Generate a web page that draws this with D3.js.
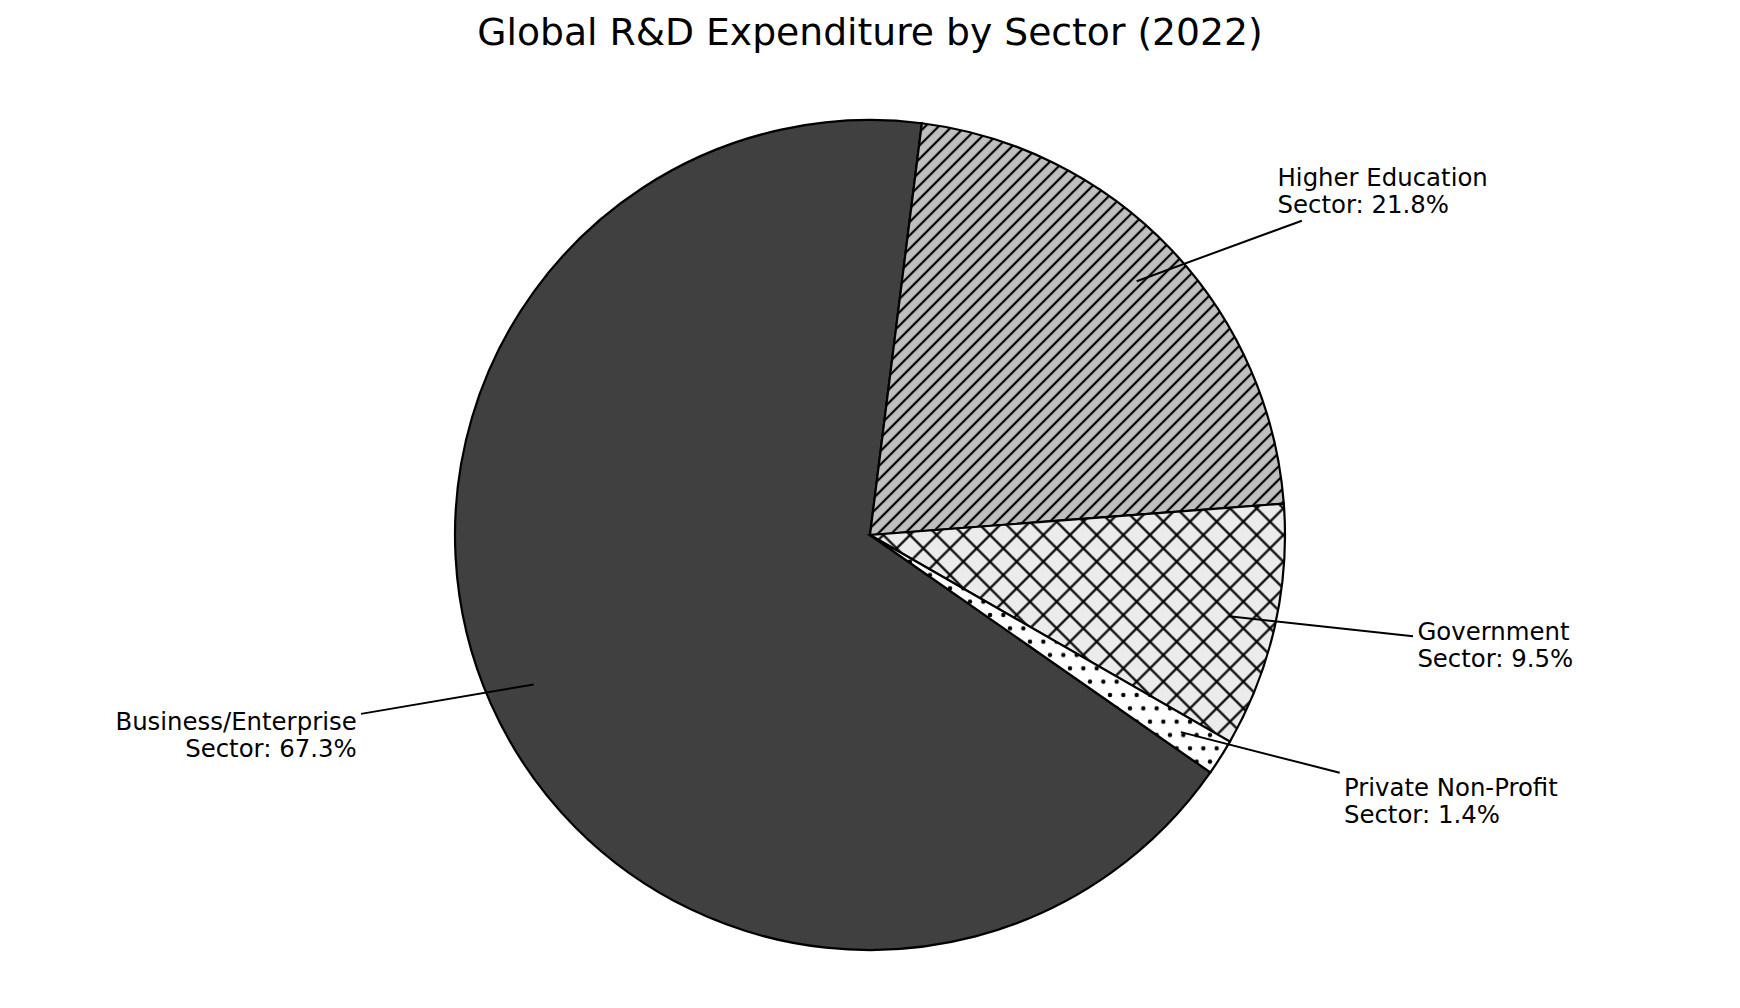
<!DOCTYPE html>
<html>
<head>
<meta charset="utf-8">
<script src="https://cdn.jsdelivr.net/npm/d3@7"></script>
<style>
  body { margin: 0; background: #fff; }
  text { font-family: "DejaVu Sans", sans-serif; fill: #000; }
</style>
</head>
<body>
<div id="chart-area"></div>
<script>
// data
var sectors = ["Business/Enterprise", "Higher Education", "Government", "Private Non-Profit"];
var shares = [67.3, 21.8, 9.5, 1.4];

// styles
var fills = ["#404040", "#bfbfbf", "#ebebeb", "#ffffff"];
var hatches = ["none", "slash", "cross", "dots"];

// label layout: text anchor relative to pie centre, in radius units
var labelAt = [[-1.237, 0.470, "end"], [0.982, -0.841, "start"], [1.319, 0.253, "start"], [1.142, 0.629, "start"]];

var W = 1740, H = 1008;
var cx = 870, cy = 535, R = 415;
var startDeg = 124.9;
var hatchW = 2.2;

var svg = d3.select("#chart-area").append("svg")
    .attr("width", W)
    .attr("height", H);

var defs = svg.append("defs");

// '//' hatch: lines 13.33px apart horizontally
var s1 = 13.333 / Math.SQRT2;
var p1 = defs.append("pattern").attr("id", "slash")
    .attr("patternUnits", "userSpaceOnUse")
    .attr("width", s1).attr("height", s1)
    .attr("patternTransform", "rotate(45)");
p1.append("rect").attr("width", s1).attr("height", s1).attr("fill", fills[1]);
p1.append("line").attr("x1", s1 / 2).attr("x2", s1 / 2).attr("y1", -1).attr("y2", s1 + 1)
    .attr("stroke", "#000").attr("stroke-width", hatchW);

// 'x' hatch: 26.67px apart horizontally
var s2 = 26.667 / Math.SQRT2;
var p2 = defs.append("pattern").attr("id", "cross")
    .attr("patternUnits", "userSpaceOnUse")
    .attr("width", s2).attr("height", s2)
    .attr("patternTransform", "rotate(45)");
p2.append("rect").attr("width", s2).attr("height", s2).attr("fill", fills[2]);
p2.append("line").attr("x1", s2 / 2).attr("x2", s2 / 2).attr("y1", -1).attr("y2", s2 + 1)
    .attr("stroke", "#000").attr("stroke-width", hatchW);
p2.append("line").attr("y1", s2 / 2).attr("y2", s2 / 2).attr("x1", -1).attr("x2", s2 + 1)
    .attr("stroke", "#000").attr("stroke-width", hatchW);

// '.' hatch: staggered dots
var s3 = 13.333;
var p3 = defs.append("pattern").attr("id", "dots")
    .attr("patternUnits", "userSpaceOnUse")
    .attr("width", s3).attr("height", s3 * 2);
p3.append("rect").attr("width", s3).attr("height", s3 * 2).attr("fill", fills[3]);
[[0, 0], [s3, 0], [0, 2 * s3], [s3, 2 * s3], [s3 / 2, s3]].forEach(function(c) {
    p3.append("circle").attr("cx", c[0]).attr("cy", c[1]).attr("r", 2.2).attr("fill", "#000");
});

// title
svg.append("text")
    .attr("x", W / 2)
    .attr("y", 45)
    .attr("text-anchor", "middle")
    .attr("font-size", "37.7px")
    .text("Global R&D Expenditure by Sector (2022)");

var pie = d3.pie()
    .sort(null)
    .startAngle(startDeg * Math.PI / 180)
    .endAngle(startDeg * Math.PI / 180 + 2 * Math.PI);

var arcs = pie(shares);

var arc = d3.arc().innerRadius(0).outerRadius(R);
var anchorArc = d3.arc().innerRadius(R * 0.887).outerRadius(R * 0.887);

var g = svg.append("g").attr("transform", "translate(" + cx + "," + cy + ")");

g.selectAll("path.wedge")
    .data(arcs)
    .enter()
    .append("path")
    .attr("class", "wedge")
    .attr("d", arc)
    .attr("fill", function(d, i) {
        return hatches[i] == "none" ? fills[i] : "url(#" + hatches[i] + ")";
    })
    .attr("stroke", "#000")
    .attr("stroke-width", 2.2)
    .attr("stroke-linejoin", "miter");

// labels with leader lines
var fs = 24.4, lineGap = 27.2;
arcs.forEach(function(d, i) {
    var lx = labelAt[i][0] * R, ly = labelAt[i][1] * R;
    var t = g.append("text")
        .attr("x", lx)
        .attr("y", ly)
        .attr("text-anchor", labelAt[i][2])
        .attr("font-size", fs + "px");
    t.append("tspan").attr("x", lx).attr("y", ly).text(sectors[i]);
    t.append("tspan").attr("x", lx).attr("y", ly + lineGap)
        .text("Sector: " + shares[i].toFixed(1) + "%");

    var bb = t.node().getBBox();
    var c = [bb.x + bb.width / 2, bb.y + bb.height / 2];
    var p = anchorArc.centroid(d);
    var dx = p[0] - c[0], dy = p[1] - c[1];
    var tx = dx != 0 ? (bb.width / 2) / Math.abs(dx) : Infinity;
    var ty = dy != 0 ? (bb.height / 2) / Math.abs(dy) : Infinity;
    var tt = Math.min(tx, ty);
    var len = Math.sqrt(dx * dx + dy * dy);
    var sx = c[0] + dx * tt + dx / len * 4.4;
    var sy = c[1] + dy * tt + dy / len * 4.4;

    g.append("line")
        .attr("x1", sx).attr("y1", sy)
        .attr("x2", p[0]).attr("y2", p[1])
        .attr("stroke", "#000")
        .attr("stroke-width", 2);
});
</script>
</body>
</html>
